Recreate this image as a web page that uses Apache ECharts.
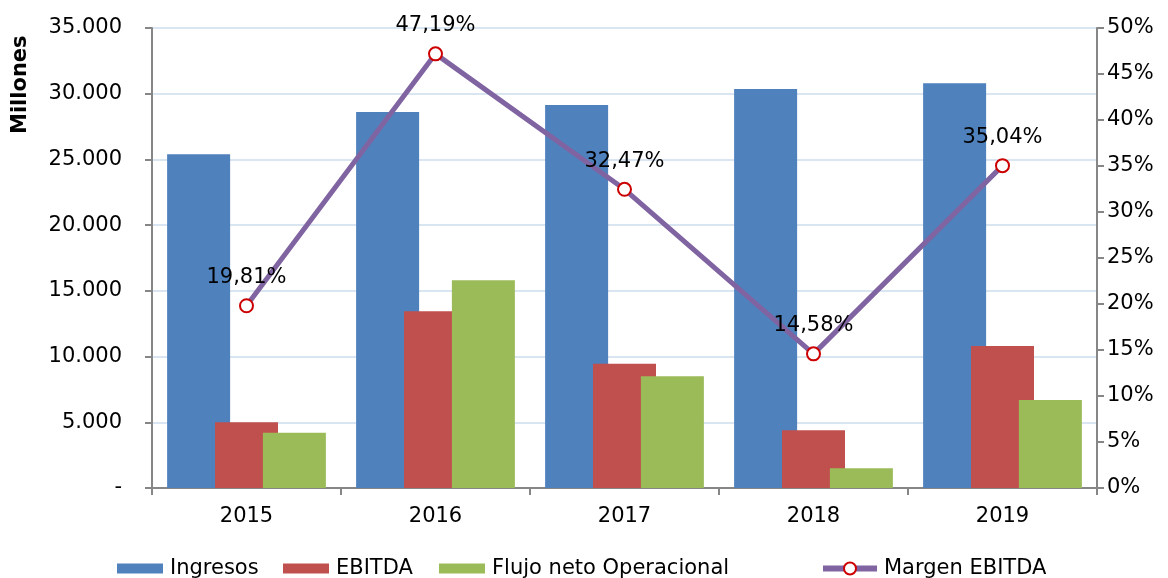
<!DOCTYPE html>
<html>
<head>
<meta charset="utf-8">
<script src="https://cdn.jsdelivr.net/npm/echarts@6/dist/echarts.min.js"></script>
<style>
  html, body { margin: 0; padding: 0; background: #fff; }
  #chart { width: 1168px; height: 578px; }
</style>
</head>
<body>
<div id="chart"></div>
<script>
// datos
const years = ['2015', '2016', '2017', '2018', '2019'];
const ingresos = [25400, 28600, 29150, 30350, 30800];
const ebitda = [5000, 13450, 9450, 4400, 10800];
const flujo = [4200, 15800, 8500, 1500, 6700];
const margen = [19.81, 47.19, 32.47, 14.58, 35.04];

const font = 'DejaVu Sans';
const axisGray = '#868686';
const fs = 21;

// 35000 -> "35.000", 0 -> "-"
function miles(v) {
    if (v === 0) return '-';
    return String(v).replace(/\B(?=(\d{3})+(?!\d))/g, '.');
}

// una leyenda por item para colocarlas como en el original
function leyenda(item, left, w, h) {
    return {
        top: 553,
        left: left,
        itemWidth: w || 46,
        itemHeight: h || 10,
        textStyle: { fontFamily: font, fontSize: fs, color: '#000', padding: [0, 0, 0, 2] },
        data: [item]
    };
}

let myChart = echarts.init(document.getElementById('chart'));
let option = {
    backgroundColor: '#fff',
    animation: false,
    textStyle: { fontFamily: font },
    grid: { left: 152, right: 71, top: 28, bottom: 90 },
    graphic: [{
        type: 'text',
        x: 10, y: 134,
        rotation: Math.PI / 2,
        style: { text: 'Millones', fontFamily: font, fontWeight: 'bold', fontSize: 21, fill: '#000' }
    }],
    legend: [
        leyenda({ name: 'Ingresos', icon: 'rect' }, 112),
        leyenda({ name: 'EBITDA', icon: 'rect' }, 278),
        leyenda({ name: 'Flujo neto Operacional', icon: 'rect' }, 434),
        leyenda({ name: 'Margen EBITDA', lineStyle: { width: 6, color: '#8064a2' } }, 815, 54, 15)
    ],
    xAxis: {
        type: 'category',
        data: years,
        axisLine: { lineStyle: { color: axisGray, width: 2 } },
        axisTick: { show: true, length: 7, lineStyle: { color: axisGray, width: 2 } },
        axisLabel: { color: '#000', fontSize: fs, fontFamily: font, margin: 18 }
    },
    yAxis: [
        {
            type: 'value',
            min: 0, max: 35000, interval: 5000,
            axisLine: { show: true, lineStyle: { color: axisGray, width: 2 } },
            axisTick: { show: true, length: 7, lineStyle: { color: axisGray, width: 2 } },
            axisLabel: { color: '#000', fontSize: fs, fontFamily: font, margin: 30, formatter: miles },
            splitLine: { lineStyle: { color: '#dae5f2', width: 2 } }
        },
        {
            type: 'value',
            min: 0, max: 50, interval: 5,
            position: 'right',
            axisLine: { show: true, lineStyle: { color: axisGray, width: 2 } },
            axisTick: { show: true, length: 7, lineStyle: { color: axisGray, width: 2 } },
            axisLabel: { color: '#000', fontSize: fs, fontFamily: font, margin: 10, formatter: '{value}%' },
            splitLine: { show: false }
        }
    ],
    series: [
        {
            name: 'Ingresos', type: 'bar', data: ingresos,
            barWidth: 63, barGap: '-24%',
            itemStyle: { color: '#4f81bd' }
        },
        {
            name: 'EBITDA', type: 'bar', data: ebitda,
            barWidth: 63, barGap: '-24%',
            itemStyle: { color: '#c0504d' }
        },
        {
            name: 'Flujo neto Operacional', type: 'bar', data: flujo,
            barWidth: 63, barGap: '-24%',
            itemStyle: { color: '#9bbb59' }
        },
        {
            name: 'Margen EBITDA', type: 'line', yAxisIndex: 1, data: margen,
            z: 5,
            symbol: 'circle', symbolSize: 13,
            lineStyle: { color: '#8064a2', width: 5 },
            itemStyle: { color: '#fff', borderColor: '#cc0000', borderWidth: 2 },
            label: {
                show: true, position: 'top', distance: 10,
                color: '#000', fontSize: fs, fontFamily: font,
                formatter: p => p.value.toFixed(2).replace('.', ',') + '%'
            }
        }
    ]
};
myChart.setOption(option, true);
</script>
</body>
</html>
